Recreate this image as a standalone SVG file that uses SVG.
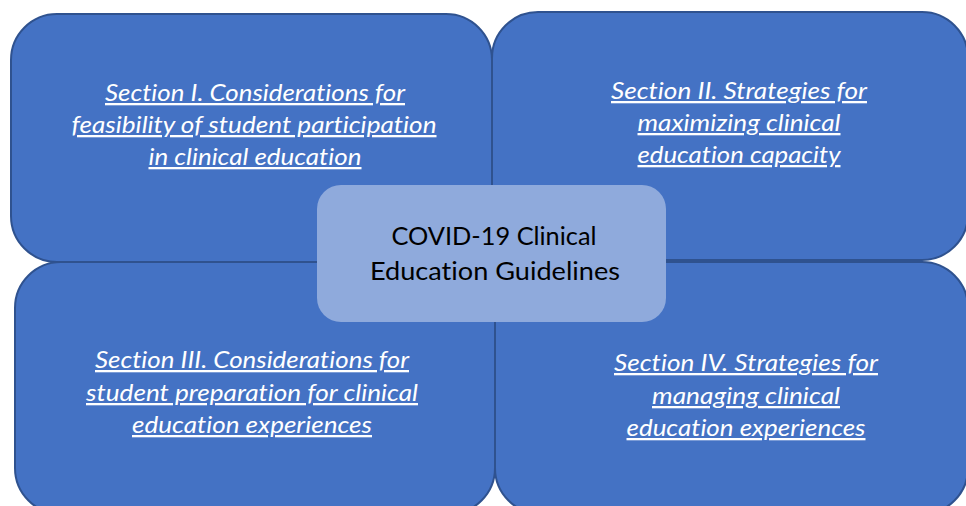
<svg xmlns="http://www.w3.org/2000/svg" width="966" height="506" viewBox="0 0 966 506">
<style>
.sec{fill:#4472C4;stroke:#2F528F;stroke-width:2}
.ctr{fill:#8FAADC;stroke:none}
.lbl{font-family:Lato,"Open Sans","Liberation Sans",sans-serif;font-style:italic;font-size:23px;fill:#FFFFFF;text-anchor:middle;text-decoration:underline;font-variant-ligatures:none}
.ctxt{font-family:Lato,"Open Sans","Liberation Sans",sans-serif;font-size:25px;fill:#000000;text-anchor:middle;font-variant-ligatures:none}
</style>
<rect width="966" height="506" fill="#FFFFFF"/>
<g id="section1">
<rect class="sec" x="11" y="14" width="481" height="248" rx="46" ry="46"/>
<text class="lbl"><tspan x="255" y="101" textLength="300" lengthAdjust="spacingAndGlyphs">Section I. Considerations for</tspan><tspan x="254" y="133" textLength="365" lengthAdjust="spacingAndGlyphs">feasibility of student participation</tspan><tspan x="255" y="165" textLength="213" lengthAdjust="spacingAndGlyphs">in clinical education</tspan></text>
</g>
<g id="section2">
<rect class="sec" x="492" y="12" width="476" height="248" rx="46" ry="46"/>
<text class="lbl"><tspan x="739" y="99" textLength="256" lengthAdjust="spacingAndGlyphs">Section II. Strategies for</tspan><tspan x="739" y="131" textLength="203" lengthAdjust="spacingAndGlyphs">maximizing clinical</tspan><tspan x="739" y="163" textLength="203" lengthAdjust="spacingAndGlyphs">education capacity</tspan></text>
</g>
<g id="section3">
<rect class="sec" x="15" y="262" width="480" height="252" rx="46" ry="46"/>
<text class="lbl"><tspan x="252" y="368" textLength="314" lengthAdjust="spacingAndGlyphs">Section III. Considerations for</tspan><tspan x="252" y="401" textLength="332" lengthAdjust="spacingAndGlyphs">student preparation for clinical</tspan><tspan x="252" y="433" textLength="240" lengthAdjust="spacingAndGlyphs">education experiences</tspan></text>
</g>
<g id="section4">
<rect class="sec" x="495" y="262" width="473" height="252" rx="46" ry="46"/>
<text class="lbl"><tspan x="746" y="371" textLength="264" lengthAdjust="spacingAndGlyphs">Section IV. Strategies for</tspan><tspan x="746" y="404" textLength="188" lengthAdjust="spacingAndGlyphs">managing clinical</tspan><tspan x="746" y="436" textLength="239" lengthAdjust="spacingAndGlyphs">education experiences</tspan></text>
</g>
<g id="center">
<rect class="ctr" x="317" y="185" width="349" height="137" rx="24" ry="24"/>
<text class="ctxt"><tspan x="494" y="245" textLength="205" lengthAdjust="spacingAndGlyphs">COVID-19 Clinical</tspan><tspan x="495" y="280" textLength="250" lengthAdjust="spacingAndGlyphs">Education Guidelines</tspan></text>
</g>
<g id="connectors"></g>
</svg>
